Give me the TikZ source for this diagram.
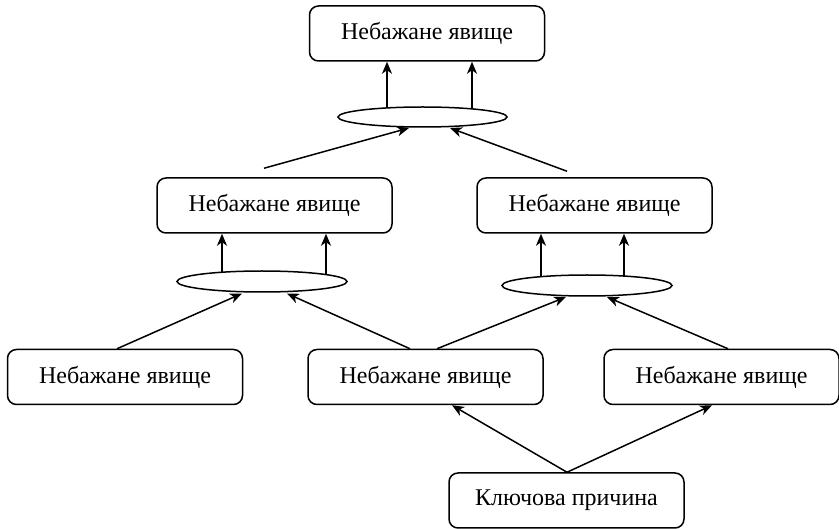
\documentclass[tikz,border=0pt]{standalone}
\usepackage{fontspec}
\setmainfont{Liberation Serif}
\usetikzlibrary{shapes.geometric,arrows.meta,calc}
\tikzset{
  box/.style={draw, line width=1.5pt, rounded corners=9pt, minimum width=235pt, minimum height=55pt, inner sep=0pt, font=\fontsize{24}{28}\selectfont, fill=white},
  oval/.style={draw, ellipse, line width=1.5pt, inner sep=0pt, minimum height=21pt, minimum width=170pt, fill=white},
  arr/.style={line width=1.5pt, -{Stealth[length=12pt,width=10pt,inset=3.5pt]}}
}
\begin{document}
\begin{tikzpicture}[x=1pt,y=-1pt]
\useasboundingbox (0,0) rectangle (839,529);
% boxes
\node[box] (top)  at (427,33.5) {Небажане явище};
\node[box] (midL) at (274.5,205.5) {Небажане явище};
\node[box] (midR) at (594.5,205.5) {Небажане явище};
\node[box] (botL) at (125,377) {Небажане явище};
\node[box] (botM) at (425.5,377) {Небажане явище};
\node[box] (botR) at (721.5,377) {Небажане явище};
\node[box] (key)  at (566.5,500.5) {Ключова причина};
% ellipses
\node[oval, minimum width=169pt, minimum height=20pt] (eT) at (422.5,117) {};
\node[oval] (eL) at (262,281.5) {};
\node[oval] (eR) at (587,285.5) {};
% vertical arrows
\draw[arr] (eT.center) ++(-35.5,-9.1) -- ($(top.south)+(-40,0)$);
\draw[arr] (eT.center) ++(49.5,-8.1) -- ($(top.south)+(45,0)$);
\draw[arr] (eL.center) ++(-40,-9.3) -- ($(midL.south)+(-52.5,0)$);
\draw[arr] (eL.center) ++(64,-6.9) -- ($(midL.south)+(51.5,0)$);
\draw[arr] (eR.center) ++(-46,-8.8) -- ($(midR.south)+(-53.5,0)$);
\draw[arr] (eR.center) ++(37,-9.4) -- ($(midR.south)+(29.5,0)$);
% diagonal arrows to ellipses
\draw[arr] ($(midL.north)+(-10.5,-9)$) -- ($(eT.center)+(-13.5,11)$);
\draw[arr] ($(midR.north)+(-27.5,-6)$) -- ($(eT.center)+(27.5,11)$);
\draw[arr] ($(botL.north)+(-8,0)$) -- ($(eL.center)+(-20,12)$);
\draw[arr] ($(botM.north)+(-15.5,0)$) -- ($(eL.center)+(25,12)$);
\draw[arr] ($(botM.north)+(11.5,0)$) -- ($(eR.center)+(-21,11.5)$);
\draw[arr] ($(botR.north)+(6.5,0)$) -- ($(eR.center)+(20,11.5)$);
% from key cause
\draw[arr] ($(key.north)+(0.5,0)$) -- ($(botM.south)+(26.5,0)$);
\draw[arr] ($(key.north)+(0.5,0)$) -- ($(botR.south)+(-9.5,0)$);
\end{tikzpicture}
\end{document}
